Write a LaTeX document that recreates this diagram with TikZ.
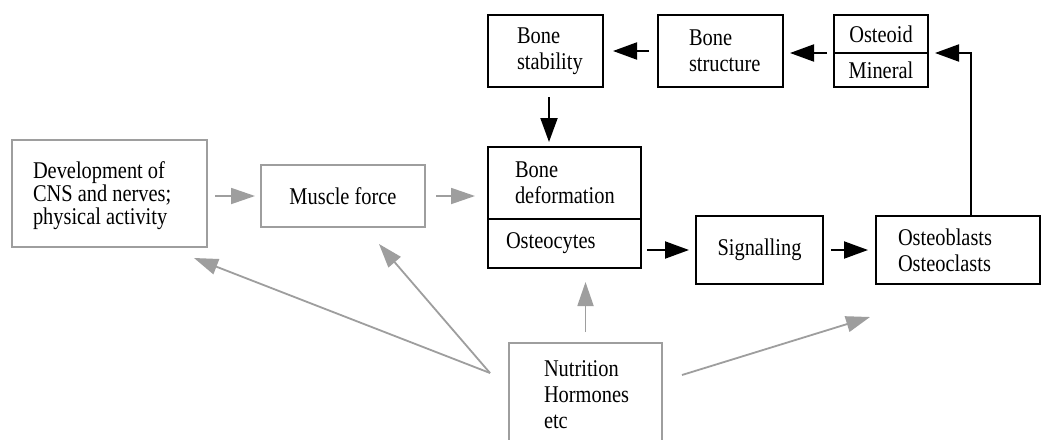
\documentclass[tikz,border=0pt]{standalone}
\usepackage{fontspec}
\setmainfont{Liberation Serif}[FakeStretch=0.85]
\usetikzlibrary{arrows.meta}
\definecolor{lgray}{RGB}{158,158,158}
\hyphenpenalty=10000
\exhyphenpenalty=10000
\hbadness=10000
\begin{document}
\begin{tikzpicture}[x=1pt,y=-1pt,
  box/.style={draw, line width=1.5pt, anchor=north west, inner sep=0pt, outer sep=0pt,
              font=\fontsize{24}{26}\selectfont, align=center},
  gbox/.style={box, draw=lgray},
  lbl/.style={inner sep=0pt, outer sep=0pt, align=left, font=\fontsize{24}{26}\selectfont},
  blk/.style={line width=2pt, -{Triangle[length=24pt,width=17pt]}},
  gry/.style={line width=1.8pt, color=lgray, -{Triangle[length=24pt,width=16pt]}}
]
\useasboundingbox (0,0) rectangle (1043,439);
\fill[white] (0,0) rectangle (1043,439);

% boxes
\node[gbox, minimum width=195pt, minimum height=107pt] (dev) at (12,140) {};
\node[lbl, anchor=west, font=\fontsize{24}{23}\selectfont] (devt) at ([xshift=21pt,yshift=-2pt]dev.west) {Development of\\CNS and nerves;\\physical activity};

\node[gbox, minimum width=164pt, minimum height=62pt] (mus) at (261,165) {Muscle force};

\node[box, minimum width=153pt, minimum height=72pt] (deftop) at (488,147) {};
\node[lbl, anchor=west] (deft) at ([xshift=27pt]deftop.west) {Bone\\deformation};
\node[box, minimum width=153pt, minimum height=49pt] (ocy) at (488,219) {};
\node[lbl, anchor=west] (ocyt) at ([xshift=18pt]ocy.west) {Osteocytes};

\node[box, minimum width=127pt, minimum height=68pt] (sig) at (696,216) {Signalling};

\node[box, minimum width=164pt, minimum height=68pt] (ob) at (876,216) {};
\node[lbl, anchor=west] (obt) at ([xshift=22pt]ob.west) {Osteoblasts\\Osteoclasts};

\node[gbox, minimum width=153pt, minimum height=115pt] (nut) at (509,343) {};
\node[lbl, anchor=north west] (nutt) at (544,361) {Nutrition\\Hormones\\etc};

\node[box, minimum width=115pt, minimum height=72pt] (stab) at (488,15) {};
\node[lbl, anchor=west] (stabt) at ([xshift=29pt]stab.west) {Bone\\stability};

\node[box, minimum width=125pt, minimum height=72pt] (struct) at (658,15) {};
\node[lbl, anchor=west] (structt) at ([xshift=31pt]struct.west) {Bone\\structure};

\node[box, minimum width=94pt, minimum height=38pt] (ost) at (834,15) {Osteoid};
\node[box, minimum width=94pt, minimum height=34pt] (mine) at (834,53) {Mineral};

% free ends
\coordinate (apex) at (490,373);
\coordinate (devtip) at (194,258);
\coordinate (mustip) at (379,244);
\coordinate (nutsrc) at (682,375);
\coordinate (obtip) at (870,317);

% gray connectors
\draw[gry, shorten <=8pt, shorten >=6pt] (dev.east |- mus.center) -- (mus.west);
\draw[gry, shorten <=11pt, shorten >=13pt] (mus.east) -- (mus.east -| deftop.west);
\draw[gry, shorten <=11pt, shorten >=14pt] (nut.north) -- (nut.north |- ocy.south);
\draw[gry] (apex) -- (devtip);
\draw[gry] (apex) -- (mustip);
\draw[gry] (nutsrc) -- (obtip);

% black connectors
\draw[blk, shorten <=9pt, shorten >=10pt] (struct.west) -- (stab.east);
\draw[blk, shorten <=7pt, shorten >=7pt] (ost.south west) -- (ost.south west -| struct.east);
\draw[blk, shorten >=7pt] ([xshift=13pt]ob.north) |- (ost.south east);
\draw[blk, shorten <=10pt, shorten >=5pt] ([xshift=3.5pt]stab.south) -- ([xshift=3.5pt]stab.south |- deftop.north);
\draw[blk, shorten <=6pt, shorten >=7pt] (ocy.east |- sig.west) -- (sig.west);
\draw[blk, shorten <=8pt, shorten >=8pt] (sig.east) -- (ob.west);
\end{tikzpicture}
\end{document}
